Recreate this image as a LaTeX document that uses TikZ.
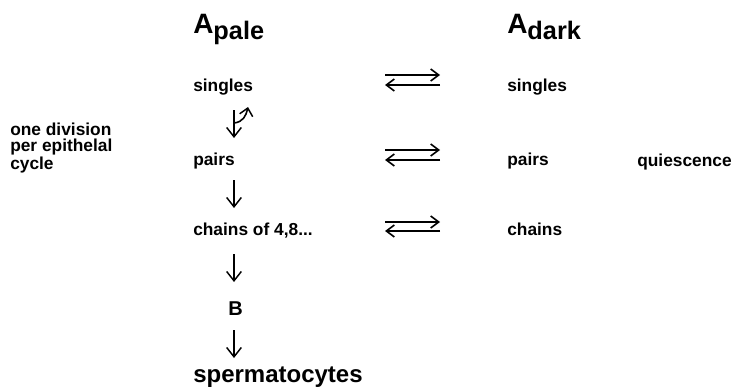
\documentclass[tikz,border=0pt]{standalone}
\usepackage{fontspec}
\setmainfont{Liberation Sans}
\usetikzlibrary{arrows.meta}
\begin{document}
\begin{tikzpicture}[x=0.75pt,y=-0.75pt,
  lbl/.style={anchor=base west,inner sep=0pt,font=\fontsize{13}{15}\selectfont\bfseries},
  side/.style={anchor=base west,inner sep=0pt,align=left,font=\fontsize{13}{11.8}\selectfont\bfseries},
  head/.style={anchor=base west,inner sep=0pt,font=\fontsize{21}{24}\selectfont\bfseries},
  big/.style={anchor=base west,inner sep=0pt,font=\fontsize{18}{21}\selectfont\bfseries},
  darr/.style={line width=1.2pt,-{Straight Barb[length=7pt,width=11pt,line width=1.1pt]}},
  harr/.style={line width=1.3pt,-{Straight Barb[length=6pt,width=9pt,line width=1.2pt]}}
]
\useasboundingbox (0,0) rectangle (738,389);
% headers
\node[head] (Ap) at (193,33) {A\raisebox{-4.5pt}{\fontsize{19}{22}\selectfont pale}};
\node[head] (Ad) at (507,33) {A\raisebox{-4.5pt}{\fontsize{19}{22}\selectfont dark}};
% left column
\node[lbl] (sL) at (193,91) {singles};
\node[lbl] (pL) at (193,165) {pairs};
\node[lbl] (cL) at (193,235) {chains of 4,8...};
\node[lbl] (B) at (228,315) {\fontsize{15}{18}\selectfont B};
\node[big] (sp) at (193,382) {spermatocytes};
% right column
\node[lbl] (sR) at (507,91) {singles};
\node[lbl] (pR) at (507,165) {pairs};
\node[lbl] (cR) at (507,235) {chains};
\node[lbl] (q) at (637,166) {quiescence};
% side note (base anchor = last line)
\node[side] (note) at (10,169) {one division\\per epithelal\\cycle};
% vertical arrows
\coordinate (v1a) at (234,110); \coordinate (v1b) at (234,138);
\coordinate (v2a) at (234,180); \coordinate (v2b) at (234,208);
\coordinate (v3a) at (234,254); \coordinate (v3b) at (234,282);
\coordinate (v4a) at (234,330); \coordinate (v4b) at (234,358);
\draw[darr] (v1a) -- (v1b);
\draw[darr] (v2a) -- (v2b);
\draw[darr] (v3a) -- (v3b);
\draw[darr] (v4a) -- (v4b);
% self-renewal curved arrow
\coordinate (c1) at (234,123); \coordinate (c2) at (248,107);
\draw[line width=1.2pt,-{Straight Barb[length=5.5pt,width=10pt,line width=1.1pt]}] (c1) .. controls (243,122) and (246,116) .. (c2);
% reversible arrows
\foreach \r/\yt/\yb in {1/75/85, 2/150/160, 3/222/231}{
  \coordinate (l\r t) at (385,\yt); \coordinate (r\r t) at (440,\yt);
  \coordinate (l\r b) at (385,\yb); \coordinate (r\r b) at (440,\yb);
  \draw[harr] (l\r t) -- (r\r t);
  \draw[harr] (r\r b) -- (l\r b);
}
\end{tikzpicture}
\end{document}
